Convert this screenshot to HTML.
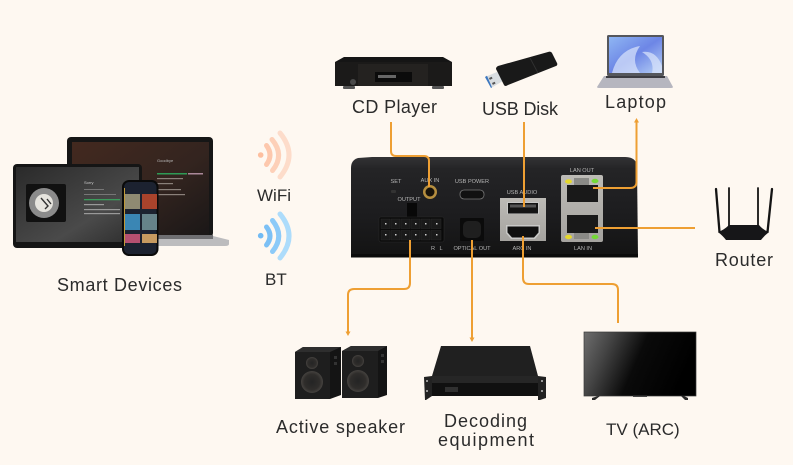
<!DOCTYPE html>
<html><head><meta charset="utf-8"><style>
html,body{margin:0;padding:0;background:#fff}
svg{display:block}
.l{font-family:"Liberation Sans",sans-serif;font-size:18px;fill:#2b2b2b}
.m{font-size:17px}
.s{font-family:"Liberation Sans",sans-serif;font-size:5.6px;fill:#b5b5b5;text-anchor:middle}
.c{fill:none;stroke:#ee9f33;stroke-width:2}
</style></head><body>
<svg width="800" height="465" viewBox="0 0 800 465" xmlns="http://www.w3.org/2000/svg">
<defs>
<linearGradient id="box" x1="0" y1="0" x2="0" y2="1"><stop offset="0" stop-color="#333335"/><stop offset=".12" stop-color="#242426"/><stop offset=".6" stop-color="#1c1c1e"/><stop offset="1" stop-color="#131313"/></linearGradient>
<linearGradient id="lap" x1="0" y1="0" x2="1" y2="1"><stop offset="0" stop-color="#43291f"/><stop offset=".55" stop-color="#33241f"/><stop offset="1" stop-color="#1a1717"/></linearGradient>
<linearGradient id="tab" x1="0" y1="0" x2="1" y2="1"><stop offset="0" stop-color="#2a2a2a"/><stop offset=".65" stop-color="#4a4a4a"/><stop offset="1" stop-color="#2c2c2c"/></linearGradient>
<linearGradient id="tv" x1="0" y1="0" x2="1" y2=".25"><stop offset="0" stop-color="#6e6e6e"/><stop offset=".25" stop-color="#444"/><stop offset=".55" stop-color="#0a0a0a"/><stop offset="1" stop-color="#000"/></linearGradient>
<linearGradient id="sil" x1="0" y1="0" x2="0" y2="1"><stop offset="0" stop-color="#bdbbb6"/><stop offset="1" stop-color="#a5a39f"/></linearGradient>
<linearGradient id="scr" x1="0" y1="0" x2="1" y2="1"><stop offset="0" stop-color="#8fb6f3"/><stop offset=".5" stop-color="#6d86e6"/><stop offset="1" stop-color="#b6d0f5"/></linearGradient>
<radialGradient id="woof"><stop offset="0" stop-color="#242424"/><stop offset=".7" stop-color="#2f2d2b"/><stop offset="1" stop-color="#464340"/></radialGradient>
</defs>
<rect width="793" height="465" fill="#fef8f1"/>

<!-- Smart devices: laptop -->
<rect x="67" y="137" width="146" height="100" rx="4" fill="#161616"/>
<rect x="72" y="142" width="137" height="94" fill="url(#lap)"/>
<path d="M96 236H213L229 240V244Q229 246 225 246H96Z" fill="#bcbcbe"/>
<rect x="100" y="235" width="113" height="4" fill="#6f6f72"/>
<text x="157" y="162" font-family="Liberation Sans" font-size="4" fill="#bbb">Goodbye</text>
<rect x="157" y="173" width="30" height="1.500" fill="#2e9a55"/><rect x="188" y="173" width="15" height="1.500" fill="#a89"/>
<rect x="157" y="178" width="26" height="1.200" fill="#8a807a"/><rect x="157" y="183" width="16" height="1.200" fill="#8a807a"/>
<rect x="157" y="189" width="24" height="1.200" fill="#8a807a"/><rect x="157" y="194" width="28" height="1.200" fill="#8a807a"/>
<!-- tablet -->
<rect x="13" y="164" width="129" height="84" rx="4" fill="#151515"/>
<rect x="16" y="167" width="123" height="75" fill="url(#tab)"/>
<rect x="26" y="184" width="40" height="38" rx="2" fill="#111"/>
<circle cx="44" cy="203" r="15" fill="#8b8b8b"/><circle cx="44" cy="203" r="9" fill="#e6e4de"/><path d="M41 198L48 206L45 209M47 199L51 204" stroke="#333" stroke-width="1.400" fill="none"/>
<text x="84" y="184" font-family="Liberation Sans" font-size="4" fill="#ccc">Sorry</text>
<rect x="84" y="189" width="20" height="1" fill="#777"/><rect x="84" y="194" width="32" height="1" fill="#777"/>
<rect x="84" y="199" width="36" height="1.300" fill="#3c9c5c"/><rect x="84" y="204" width="20" height="1.200" fill="#999"/>
<rect x="84" y="209" width="36" height="1.200" fill="#999"/><rect x="84" y="213" width="36" height="1.200" fill="#999"/>
<!-- phone -->
<rect x="122" y="180" width="36.500" height="76" rx="7" fill="#0a0a0a"/>
<rect x="124" y="182" width="32.500" height="72" rx="5" fill="#1c2230"/>
<rect x="124" y="188" width="1" height="58" fill="#c09a3a"/>
<rect x="125" y="194" width="15" height="15" fill="#8f8a72"/><rect x="142" y="194" width="15" height="15" fill="#a8432c"/>
<rect x="125" y="214" width="15" height="16" fill="#3a86b4"/><rect x="142" y="214" width="15" height="16" fill="#66838a"/>
<rect x="125" y="234" width="15" height="9" fill="#b55070"/><rect x="142" y="234" width="15" height="9" fill="#c69a60"/>

<!-- WiFi -->
<circle cx="260.700" cy="155" r="2.800" fill="#fdbf9f"/>
<g fill="none" stroke-linecap="round" stroke-width="5">
<path d="M266.500 145.500Q273.500 155 266.500 164.500" stroke="#fdc8ad"/>
<path d="M272 139.500Q285 155 272.500 170.500" stroke="#fdd0b8"/>
<path d="M280 133Q298 155 280 177" stroke="#fddcca"/>
</g>
<!-- BT -->
<circle cx="260.700" cy="235.700" r="2.800" fill="#72bbf4"/>
<g fill="none" stroke-linecap="round" stroke-width="5">
<path d="M266.500 227Q273.500 236 266.500 245" stroke="#7cc0f5"/>
<path d="M272.500 220.500Q285 236 272.500 251.500" stroke="#8ccaf8"/>
<path d="M280 214Q298 236 280 258" stroke="#addcfb"/>
</g>

<!-- CD player -->
<path d="M344 57H443L452 62V84H335V62Z" fill="#151515"/>
<rect x="335" y="62" width="117" height="24" fill="#1b1a19"/>
<rect x="358" y="64" width="70" height="22" fill="#242220"/>
<rect x="375" y="72" width="37" height="10" fill="#0b0b0b"/>
<rect x="378" y="75" width="18" height="3" fill="#666"/>
<circle cx="353" cy="82" r="3" fill="#4a4a4a"/>
<rect x="343" y="86" width="12" height="3" rx="1" fill="#555"/><rect x="432" y="86" width="12" height="3" rx="1" fill="#555"/>

<!-- USB disk -->
<path d="M485 77L497 72L503 81L491 88Z" fill="#d9dde0"/><path d="M485 77L487 75.800L492 87.400L491 88Z" fill="#3d78c0"/>
<rect x="489" y="78" width="3" height="2" fill="#555" transform="rotate(-25 489 78)"/><rect x="492" y="83" width="3" height="2" fill="#555" transform="rotate(-25 492 83)"/>
<path d="M498 66L548 52Q551 51 552 53L557 63Q558 65 556 66L508 85Q505 87 504 85L496 69Q496 67 498 66Z" fill="#191919"/>
<path d="M530 58L538 73" stroke="#333" stroke-width=".8"/>

<!-- Laptop -->
<rect x="607" y="35" width="57" height="41" rx="1.500" fill="#55575c"/>
<rect x="609" y="37" width="53" height="36" fill="url(#scr)"/>
<path d="M612 73Q618 50 640 46Q630 60 640 73ZM642 52Q656 50 662 66V73H652Q655 60 642 52Z" fill="#dce6fb" opacity=".7"/>
<path d="M604 76H667L673 87Q673 88 670 88H600Q597 88 597 87Z" fill="#b6b6bf"/>
<rect x="606" y="76" width="59" height="2" fill="#3c3c42"/>

<!-- Main box -->
<path d="M351 168Q351 160 358 158L372 157H625Q636 157 637 166L638 257H351Z" fill="url(#box)"/>
<rect x="351" y="254" width="287" height="3.500" fill="#0b0b0b"/>
<rect x="391" y="190" width="5" height="3" rx="1" fill="#333"/>
<circle cx="430" cy="192" r="7" fill="#b58e3f"/><circle cx="430" cy="192" r="4.500" fill="#17120a"/>
<rect x="460" y="190" width="24" height="9" rx="4" fill="#111" stroke="#777" stroke-width=".8"/>
<rect x="407" y="203" width="10" height="14" fill="#080808"/>
<rect x="379" y="217" width="65" height="25" rx="2" fill="#0a0a0a" stroke="#2a2a2a" stroke-width=".6"/>
<g fill="#1a1a1a" stroke="#333" stroke-width=".4">
<rect x="381" y="219" width="9" height="9.500"/><rect x="391" y="219" width="9" height="9.500"/><rect x="401" y="219" width="9" height="9.500"/><rect x="411" y="219" width="9" height="9.500"/><rect x="421" y="219" width="9" height="9.500"/><rect x="431" y="219" width="10" height="9.500"/>
<rect x="381" y="230.500" width="9" height="9.500"/><rect x="391" y="230.500" width="9" height="9.500"/><rect x="401" y="230.500" width="9" height="9.500"/><rect x="411" y="230.500" width="9" height="9.500"/><rect x="421" y="230.500" width="9" height="9.500"/><rect x="431" y="230.500" width="10" height="9.500"/>
</g>
<g fill="#ccc">
<rect x="385" y="223" width="1.500" height="1.500"/><rect x="395" y="223" width="1.500" height="1.500"/><rect x="405" y="223" width="1.500" height="1.500"/><rect x="415" y="223" width="1.500" height="1.500"/><rect x="425" y="223" width="1.500" height="1.500"/><rect x="436" y="223" width="1.500" height="1.500"/>
<rect x="385" y="234" width="1.500" height="1.500"/><rect x="395" y="234" width="1.500" height="1.500"/><rect x="405" y="234" width="1.500" height="1.500"/><rect x="415" y="234" width="1.500" height="1.500"/><rect x="425" y="234" width="1.500" height="1.500"/><rect x="436" y="234" width="1.500" height="1.500"/>
</g>
<rect x="460" y="218" width="24" height="23" rx="1" fill="#0b0b0b"/><rect x="463" y="221" width="18" height="17" rx="5" fill="#1f1f1f"/>
<rect x="500" y="198" width="46" height="43" fill="url(#sil)"/>
<rect x="507" y="202" width="32" height="12" fill="#c9c9c7"/><rect x="508" y="203" width="30" height="10.500" fill="#141414"/><rect x="510" y="204.500" width="26" height="3" fill="#555"/>
<path d="M506 225H540V233L535 239H511L506 233Z" fill="#c9c9c7"/><path d="M507.500 226.500H538.500V232.500L534 237.500H512L507.500 232.500Z" fill="#101010"/>
<rect x="561" y="175" width="42" height="67" rx="2" fill="url(#sil)"/>
<rect x="567" y="185" width="31" height="17" fill="#191919"/><rect x="567" y="215" width="31" height="18" fill="#191919"/>
<rect x="574" y="178" width="15" height="7" fill="#8a8a86"/><rect x="574" y="233" width="15" height="6" fill="#8a8a86"/>
<ellipse cx="568.500" cy="181.500" rx="3.500" ry="2.200" fill="#e6d92c"/><ellipse cx="595" cy="181" rx="3.500" ry="2.200" fill="#74d936"/>
<ellipse cx="568.500" cy="237" rx="3.500" ry="2.200" fill="#e6d92c"/><ellipse cx="595" cy="237" rx="3.500" ry="2.200" fill="#74d936"/>
<text class="s" x="396" y="183">SET</text>
<text class="s" x="430" y="182">AUX IN</text>
<text class="s" x="472" y="183">USB POWER</text>
<text class="s" x="409" y="201">OUTPUT</text>
<text class="s" x="522" y="194">USB AUDIO</text>
<text class="s" x="582" y="172">LAN OUT</text>
<text class="s" x="583" y="250">LAN IN</text>
<text class="s" x="472" y="250">OPTICAL OUT</text>
<text class="s" x="522" y="250">ARC IN</text>
<text class="s" x="433" y="250">R</text><text class="s" x="441" y="250">L</text>

<!-- Connectors -->
<path class="c" d="M391 122V151Q391 156 396 156H424Q429 156 429 161V187"/>
<path class="c" d="M524 122V207"/>
<path class="c" d="M636.500 122V182Q636.500 188 630 188H593"/>
<path class="c" d="M595 228H695"/>
<path class="c" d="M410 240V283Q410 289 404 289H354Q348 289 348 295V332"/>
<path class="c" d="M472 240V338"/>
<path class="c" d="M523 236V278Q523 284 529 284H612Q618 284 618 290V323"/>
<path d="M345.500 331.500H350.500L348 336Z" fill="#ee9f33"/>
<path d="M469.500 337.500H474.500L472 342Z" fill="#ee9f33"/>
<path d="M634 122.500H639L636.500 118Z" fill="#ee9f33"/>

<!-- Router -->
<g stroke="#141414" stroke-linecap="round">
<path d="M716 189L719.500 232" stroke-width="2.300"/><path d="M729 188V226" stroke-width="1.800"/><path d="M758 188V226" stroke-width="1.800"/><path d="M772 189L767.500 232" stroke-width="2.300"/>
</g>
<path d="M729 225H759Q763 230 769 232Q764 236 761 240H726Q723 236 718 232Q724 230 729 225Z" fill="#161618"/>

<!-- Speakers -->
<path d="M295 352L303 347H341V395L330 399V352Z" fill="#141414"/>
<path d="M295 352L303 347H341L330 352Z" fill="#2e2e2e"/>
<rect x="295" y="352" width="35" height="47" fill="#1e1e1e"/>
<circle cx="312" cy="363" r="6" fill="url(#woof)"/><circle cx="312" cy="382" r="11" fill="url(#woof)"/>
<path d="M342 351L351 346H387V395L378 398V351Z" fill="#141414"/>
<path d="M342 351L351 346H387L378 351Z" fill="#2e2e2e"/>
<rect x="342" y="351" width="36" height="47" fill="#1e1e1e"/>
<circle cx="358" cy="361" r="6" fill="url(#woof)"/><circle cx="358" cy="381" r="11" fill="url(#woof)"/>
<g fill="#333"><rect x="334" y="356" width="3" height="3"/><rect x="334" y="362" width="3" height="3"/><rect x="381" y="354" width="3" height="3"/><rect x="381" y="360" width="3" height="3"/></g>

<!-- Decoding equipment -->
<path d="M441 346H530L538 376H432Z" fill="#202020"/>
<rect x="432" y="376" width="106" height="20" fill="#101010"/><rect x="432" y="376" width="106" height="7" fill="#262626"/>
<rect x="445" y="387" width="13" height="5" fill="#303030"/>
<path d="M424 377L432 376V396L426 400H425Z" fill="#222"/><path d="M538 376L546 377V398L540 400H538Z" fill="#222"/>
<g fill="#999"><rect x="426" y="380" width="2" height="2"/><rect x="426" y="390" width="2" height="2"/><rect x="541" y="380" width="2" height="2"/><rect x="541" y="390" width="2" height="2"/></g>

<!-- TV -->
<rect x="584" y="332" width="112" height="64" fill="url(#tv)" stroke="#3a3a3a" stroke-width=".7"/>
<rect x="633" y="395.500" width="14" height="1.500" fill="#444"/>
<path d="M592 398L598 396H600L595 400H592Z" fill="#2a2a2a"/><path d="M681 396H684L688 398V400H685Z" fill="#2a2a2a"/>

<!-- Labels -->
<text class="l" x="57" y="291" textLength="125" lengthAdjust="spacing">Smart Devices</text>
<text class="l m" x="257" y="201">WiFi</text>
<text class="l m" x="265" y="285">BT</text>
<text class="l" x="352" y="113" textLength="85" lengthAdjust="spacing">CD Player</text>
<text class="l" x="482" y="115" textLength="76" lengthAdjust="spacing">USB Disk</text>
<text class="l" x="605" y="108" textLength="61" lengthAdjust="spacing">Laptop</text>
<text class="l" x="715" y="266" textLength="58" lengthAdjust="spacing">Router</text>
<text class="l" x="276" y="433" textLength="129" lengthAdjust="spacing">Active speaker</text>
<text class="l" x="444" y="427" textLength="83" lengthAdjust="spacing">Decoding</text>
<text class="l" x="438" y="446" textLength="96" lengthAdjust="spacing">equipment</text>
<text class="l m" x="606" y="435">TV (ARC)</text>
</svg>
</body></html>
